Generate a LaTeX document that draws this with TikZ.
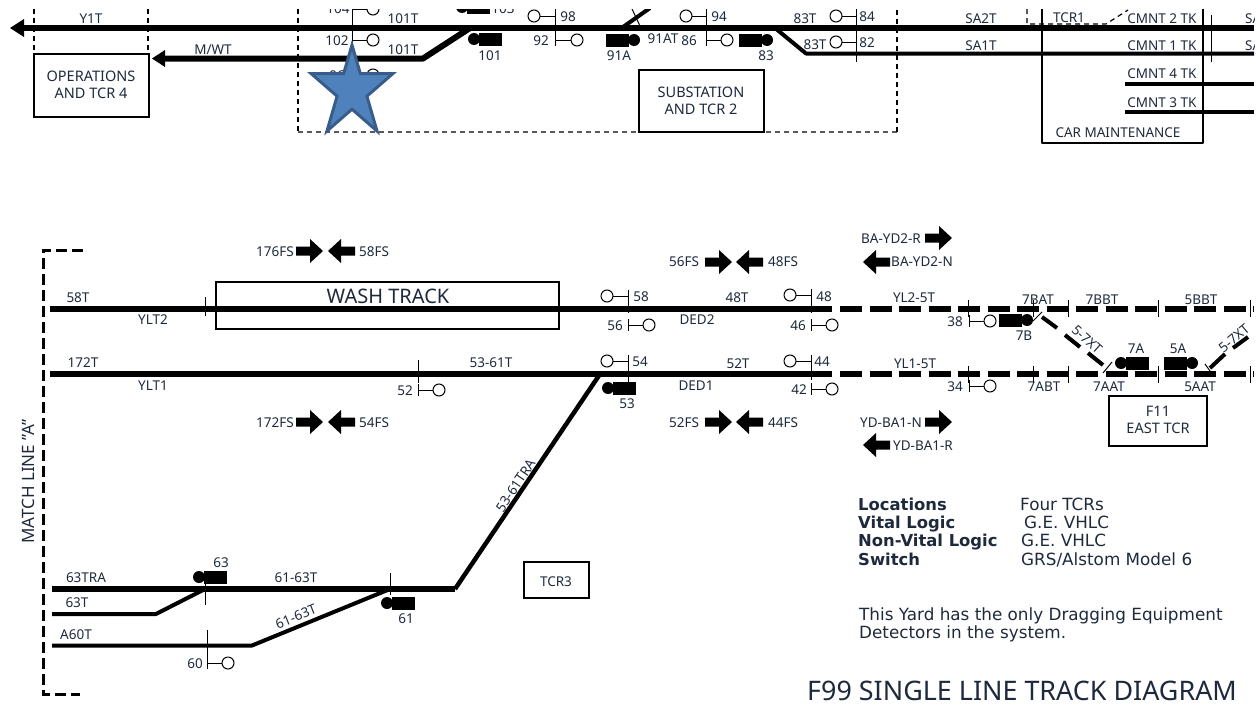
\documentclass[tikz,border=0pt]{standalone}
\usepackage{fontspec}
\setmainfont{Noto Sans}
\newfontfamily\legendfont{DejaVu Sans}
\definecolor{lbl}{HTML}{1E2A3C}
\definecolor{starfill}{HTML}{4F81BD}
\definecolor{starline}{HTML}{385D8A}
\newcounter{lblno}
\newcommand{\lbl}[4][]{\stepcounter{lblno}\node[txt,#1] (t\arabic{lblno}) at (#2,#3) {#4};}
% signal: stem x, y, direction (+1 right, -1 left)
\newcommand{\sgnl}[3]{\draw[thin line] (#1,{#2-6}) -- (#1,{#2+6}); \draw[thin line] (#1,#2) -- ({#1+#3*15},#2); \draw[thin line,fill=white] ({#1+#3*21},#2) circle[radius=6pt];}
% switch machine: circle centre x, y, direction of block
\newcommand{\swm}[3]{\fill ({#1},#2) circle[radius=6pt]; \fill ({#1+#3*5},{#2-6.5}) rectangle ({#1+#3*28},{#2+6.5});}
\newcommand{\fatarrow}[3]{\fill ({#1},{#2-4.5}) -- ({#1+#3*14},{#2-4.5}) -- ({#1+#3*14},{#2-12}) -- ({#1+#3*27},#2) -- ({#1+#3*14},{#2+12}) -- ({#1+#3*14},{#2+4.5}) -- ({#1},{#2+4.5}) -- cycle;}
\tikzset{
 txt/.style={inner sep=0pt,yshift=-0.7pt,text=lbl,font=\fontsize{13.5}{13.5}\selectfont},
 wide txt/.style={font=\fontsize{14.5}{14.5}\selectfont},
 main line/.style={line width=6pt},
 side line/.style={line width=4pt},
 thin line/.style={line width=1pt},
 tick/.style={line width=1pt},
 box line/.style={line width=2pt},
 rail dash/.style={line width=6pt,dash pattern=on 22pt off 7.5pt},
 limit dash/.style={line width=1.2pt,dash pattern=on 5pt off 4pt},
 match dash/.style={line width=3pt,dash pattern=on 11pt off 5pt},
 legend/.style={inner sep=0pt,anchor=base west,text=lbl,font=\legendfont\fontsize{16.8}{16.8}\selectfont},
 legend bold/.style={legend,font=\legendfont\bfseries\fontsize{16.4}{16.4}\selectfont},
}
\begin{document}
\begin{tikzpicture}[x=1pt,y=-1pt]
\useasboundingbox (0,0) rectangle (1257,704);
\begin{scope}
\clip (0,9.5) rectangle (1254,704);
% limits
\draw[limit dash] (34,9) -- (34,53);
\draw[limit dash] (148,9) -- (148,53);
\draw[limit dash] (298,9) -- (298,132);
\draw[limit dash,draw=black!65] (298,132) -- (897,132);
\draw[limit dash] (897,132) -- (897,9);
\draw[limit dash] (1027,9) -- (1027,24) -- (1106,24) -- (1128,10);
% top tracks
\draw[main line] (20,28) -- (1254,28);
\fill (10,28) -- (24,19) -- (24,37) -- cycle;
\draw[main line,line join=round] (165,58.5) -- (423,58.5) -- (470,28);
\fill (152,58.5) -- (165,50) -- (165,67) -- cycle;
\draw[side line,line join=round] (775,28) -- (806,53.5) -- (1254,53.5);
\draw[side line] (1125,83.5) -- (1254,83.5);
\draw[side line] (1125,112) -- (1254,112);
\draw[side line] (623,27) -- (650,8);
\draw[tick] (632,9) -- (640,26);
% boxes
\draw[box line,fill=white] (34,54) rectangle (149,117);
\draw[box line,fill=white] (639,70) rectangle (764,132);
\draw[box line,line join=round] (1042,9) -- (1042,143) -- (1203,143) -- (1203,9);
% signals, top
\draw[tick] (352,8) -- (352,90);
\draw[thin line] (352,9) -- (367,9); \draw[thin line,fill=white] (373,9) circle[radius=6pt];
\draw[thin line] (352,40) -- (367,40); \draw[thin line,fill=white] (373,40) circle[radius=6pt];
\draw[thin line,fill=white] (373,75) circle[radius=6pt];
\draw[tick] (555,9) -- (555,46);
\draw[thin line] (555,16) -- (540,16); \draw[thin line,fill=white] (534,16) circle[radius=6pt];
\draw[thin line] (555,40) -- (571,40); \draw[thin line,fill=white] (577,40) circle[radius=6pt];
\draw[tick] (706,9) -- (706,46);
\draw[thin line] (706,16) -- (692,16); \draw[thin line,fill=white] (686,16) circle[radius=6pt];
\draw[thin line] (706,40) -- (721,40); \draw[thin line,fill=white] (727,40) circle[radius=6pt];
\draw[tick] (856,9) -- (856,62);
\draw[thin line] (856,16) -- (842,16); \draw[thin line,fill=white] (836,16) circle[radius=6pt];
\draw[thin line] (856,42) -- (842,42); \draw[thin line,fill=white] (836,42) circle[radius=6pt];
\draw[tick] (1211,15) -- (1211,62);
% switches, top
\swm{474}{39}{1}
\swm{462}{7}{1}
\swm{634}{40}{-1}
\swm{767}{40}{-1}
% top labels
\lbl{91}{18}{Y1T}
\lbl{213}{49}{M/WT}
\lbl[wide txt]{91}{76}{OPERATIONS}
\lbl[wide txt]{91}{93}{AND TCR 4}
\lbl{338}{8}{104}
\lbl{337}{40}{102}
\lbl{337}{75}{96}
\lbl{403}{18}{101T}
\lbl{403}{49}{101T}
\lbl{503}{8}{103}
\lbl{490}{55}{101}
\lbl{568}{16}{98}
\lbl{541}{40}{92}
\lbl{619}{55}{91A}
\lbl{663}{38}{91AT}
\lbl{689}{40}{86}
\lbl{719}{16}{94}
\lbl{766}{55}{83}
\lbl[wide txt]{701}{92}{SUBSTATION}
\lbl[wide txt]{701}{109}{AND TCR 2}
\lbl{805}{18}{83T}
\lbl{815}{44}{83T}
\lbl{867}{16}{84}
\lbl{867}{42}{82}
\lbl{981}{18}{SA2T}
\lbl{981}{45}{SA1T}
\lbl{1069}{17}{TCR1}
\lbl{1162}{18}{CMNT 2 TK}
\lbl{1162}{45}{CMNT 1 TK}
\lbl{1162}{73}{CMNT 4 TK}
\lbl{1162}{102}{CMNT 3 TK}
\lbl{1118}{132}{CAR MAINTENANCE}
\lbl[anchor=west]{1245}{18}{SA}
\lbl[anchor=west]{1245}{45}{SA}
% star
\draw[line width=3pt,draw=starline,fill=starfill,miter limit=10]
 (352,45) -- (360.3,73.5) -- (393,73.5) -- (366.9,96.2) -- (377,131) -- (352,109.2) -- (327,131) -- (337.1,96.2) -- (311,73.5) -- (343.7,73.5) -- cycle;
\end{scope}
% match line
\draw[match dash] (83,250) -- (43,250) -- (43,694) -- (80,694);
\lbl[rotate=90,font=\fontsize{17}{17}\selectfont]{28}{481}{MATCH LINE "A"}
% lower tracks
\draw[main line] (50,308.5) -- (832,308.5);
\draw[main line] (50,374) -- (832,374);
\draw[main line,line join=round] (52,589) -- (455,589);
\draw[line width=4.5pt,line join=round] (600,374) -- (455,589);
\draw[side line,line join=round] (52,614) -- (156,614) -- (205,589);
\draw[side line,line join=round] (52,645.5) -- (252,645.5) -- (390,589);
\draw[rail dash] (840,308.5) -- (1254,308.5);
\draw[rail dash] (840,374.3) -- (1254,374.3);
% dashed diagonals
\draw[side line] (1042,317) -- (1057,328);
\draw[side line] (1065,335) -- (1080,347);
\draw[side line] (1088,353) -- (1103,365);
\draw[side line] (1210,368) -- (1225,354);
\draw[side line] (1233,348) -- (1248,337);
\draw[tick] (1033,321) -- (1042,312);
\draw[tick] (1103,373) -- (1112,362);
\draw[tick] (1205,364) -- (1210,371);
% ticks on dashed track
\draw[tick] (968,300) -- (968,317);
\draw[tick] (1033,300) -- (1033,317);
\draw[tick] (1068,300) -- (1068,317);
\draw[tick] (1158,300) -- (1158,317);
\draw[tick] (1250,300) -- (1250,317);
\draw[tick] (968,366) -- (968,383);
\draw[tick] (1033,366) -- (1033,383);
\draw[tick] (1068,366) -- (1068,383);
\draw[tick] (1158,366) -- (1158,383);
\draw[tick] (1250,366) -- (1250,383);
% boxes
\draw[box line] (216,282) rectangle (559,329);
\draw[box line] (524,562) rectangle (589,598);
\draw[box line] (1109,396) rectangle (1207,446);
% ticks
\draw[tick] (205,297) -- (205,316);
\draw[tick] (418,360) -- (418,383);
\draw[tick] (205,580) -- (205,605);
\draw[tick] (207,630) -- (207,668);
\draw[tick] (390,573) -- (390,595);
\draw[tick] (628,290) -- (628,313);
\draw[tick] (628,356) -- (628,382);
\draw[tick] (811,290) -- (811,313);
\draw[tick] (811,356) -- (811,380);
% signals
\sgnl{418}{390}{1}
\sgnl{628}{296}{-1}
\sgnl{628}{325}{1}
\sgnl{811}{295}{-1}
\sgnl{811}{325}{1}
\sgnl{628}{361}{-1}
\sgnl{811}{361}{-1}
\sgnl{811}{389}{1}
\sgnl{207}{663}{1}
\sgnl{969}{321}{1}
\sgnl{969}{386}{1}
% switches
\swm{608}{388}{1}
\swm{199}{577}{1}
\swm{387}{603}{1}
\swm{1027}{320}{-1}
\swm{1121}{363}{1}
\swm{1192}{363}{-1}
% fat arrows
\fatarrow{296}{251}{1}\fatarrow{355}{251}{-1}
\fatarrow{296}{422}{1}\fatarrow{355}{422}{-1}
\fatarrow{705}{262}{1}\fatarrow{763}{262}{-1}
\fatarrow{705}{422}{1}\fatarrow{763}{422}{-1}
\fatarrow{925}{238}{1}\fatarrow{890}{262}{-1}
\fatarrow{925}{422}{1}\fatarrow{890}{445}{-1}
% lower labels
\lbl{275}{251}{176FS}
\lbl{374}{251}{58FS}
\lbl{275}{422}{172FS}
\lbl{374}{422}{54FS}
\lbl{684}{261}{56FS}
\lbl{783}{261}{48FS}
\lbl{684}{422}{52FS}
\lbl{783}{422}{44FS}
\lbl{891}{238}{BA-YD2-R}
\lbl{922}{261}{BA-YD2-N}
\lbl{891}{422}{YD-BA1-N}
\lbl{923}{445}{YD-BA1-R}
\lbl{78}{297}{58T}
\lbl{153}{319}{YLT2}
\lbl{83}{362}{172T}
\lbl{153}{385}{YLT1}
\lbl[font=\fontsize{20}{20}\selectfont]{388}{296}{WASH TRACK}
\lbl{405}{390}{52}
\lbl{491}{362}{53-61T}
\lbl{641}{296}{58}
\lbl{615}{325}{56}
\lbl{737}{297}{48T}
\lbl{824}{296}{48}
\lbl{798}{325}{46}
\lbl{697}{319}{DED2}
\lbl{640}{361}{54}
\lbl{738}{363}{52T}
\lbl{822}{361}{44}
\lbl{799}{389}{42}
\lbl{696}{385}{DED1}
\lbl{627}{403}{53}
\lbl[rotate=56]{516}{485}{53-61TRA}
\lbl{86}{577}{63TRA}
\lbl{77}{602}{63T}
\lbl{76}{634}{A60T}
\lbl{296}{577}{61-63T}
\lbl[rotate=22]{296}{616}{61-63T}
\lbl{221}{562}{63}
\lbl{406}{618}{61}
\lbl{195}{663}{60}
\lbl{556}{581}{TCR3}
\lbl{914}{297}{YL2-5T}
\lbl{1038}{299}{7BAT}
\lbl{1102}{299}{7BBT}
\lbl{1201}{299}{5BBT}
\lbl{915}{363}{YL1-5T}
\lbl{1044}{386}{7ABT}
\lbl{1109}{386}{7AAT}
\lbl{1200}{386}{5AAT}
\lbl{955}{321}{38}
\lbl{955}{386}{34}
\lbl{1024}{335}{7B}
\lbl{1136}{348}{7A}
\lbl{1178}{348}{5A}
\lbl[rotate=-42]{1087}{339}{5-7XT}
\lbl[rotate=40]{1234}{338}{5-7XT}
\lbl[wide txt]{1158}{411}{F11}
\lbl[wide txt]{1158}{428}{EAST TCR}
% legend
\node[legend bold] (loc) at (858,510) {Locations};
\node[legend bold] (vit) at (858,528) {Vital Logic};
\node[legend bold] (nvit) at (858,546) {Non-Vital Logic};
\node[legend bold] (swi) at (858,565) {Switch};
\node[legend] (locv) at (1020,510) {Four TCRs};
\node[legend] (vitv) at (1024,528) {G.E. VHLC};
\node[legend] (nvitv) at (1021,546) {G.E. VHLC};
\node[legend] (swiv) at (1021,565) {GRS/Alstom Model 6};
\node[legend] (note1) at (859,620) {This Yard has the only Dragging Equipment};
\node[legend] (note2) at (859,638) {Detectors in the system.};
\node[inner sep=0pt,anchor=base east,text=lbl,font=\fontsize{26.9}{26.9}\selectfont] (title) at (1237,700) {F99 SINGLE LINE TRACK DIAGRAM};
\end{tikzpicture}
\end{document}
